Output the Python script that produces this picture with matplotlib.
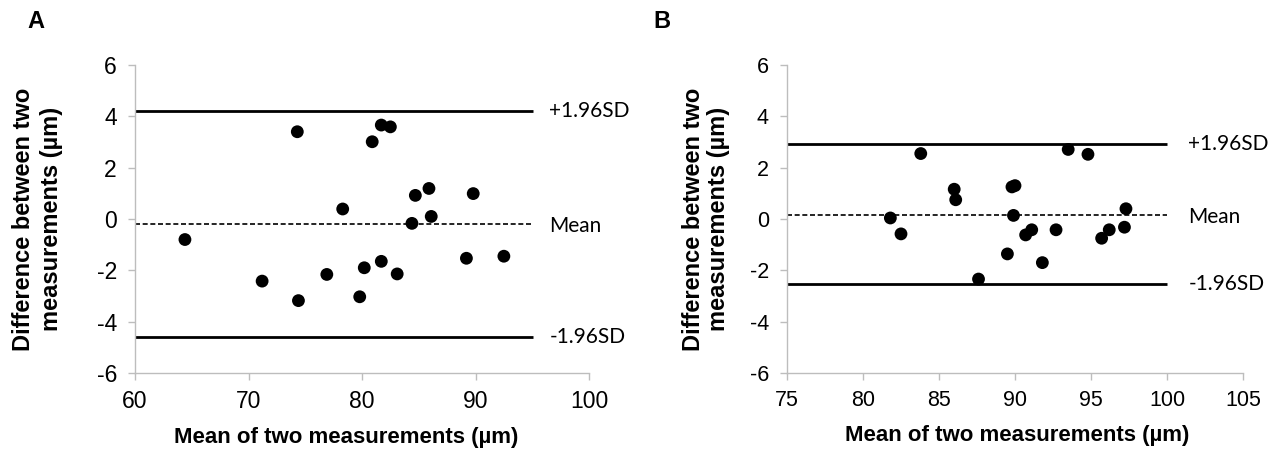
import matplotlib
matplotlib.use("Agg")
import matplotlib.pyplot as plt
import numpy as np

plt.rcParams['font.family'] = ['Liberation Sans', 'DejaVu Sans']
plt.rcParams['axes.unicode_minus'] = False

# panel A: Bland-Altman data
a_mean = [64.4, 71.2, 74.3, 74.4, 76.9, 78.3, 79.8, 80.2, 80.9, 81.7,
          82.5, 81.7, 83.1, 84.4, 84.7, 85.9, 86.1, 89.2, 89.8, 92.5]
a_diff = [-0.80, -2.42, 3.40, -3.18, -2.16, 0.39, -3.03, -1.90, 3.01, 3.66,
          3.59, -1.65, -2.14, -0.17, 0.92, 1.19, 0.10, -1.53, 0.99, -1.45]
a_upper, a_avg, a_lower = 4.22, -0.18, -4.58

# panel B
b_mean = [81.8, 82.5, 83.8, 86.0, 86.1, 87.6, 89.5, 89.8, 90.0, 89.9,
          90.7, 91.1, 91.8, 92.7, 93.5, 94.8, 95.7, 96.2, 97.2, 97.3]
b_diff = [0.04, -0.58, 2.55, 1.16, 0.75, -2.34, -1.36, 1.25, 1.30, 0.14,
          -0.62, -0.42, -1.70, -0.42, 2.71, 2.52, -0.75, -0.42, -0.32, 0.40]
b_upper, b_avg, b_lower = 2.91, 0.17, -2.55

W, H = 1271, 449
fig = plt.figure(figsize=(W / 100, H / 100), dpi=100)
axA = fig.add_axes([135 / W, 1 - 373 / H, 454 / W, 308 / H])
axB = fig.add_axes([787 / W, 1 - 373 / H, 456 / W, 308 / H])

# ax, x, y, limits, xlim, xticks, line end, text x, tick size, ylabel pad, line spacing, xlabel x
panels = [
    (axA, a_mean, a_diff, a_upper, a_avg, a_lower, (60, 100), [60, 70, 80, 90, 100], 95.1, 96.5, 16.5, 24, 1.28, 0.465),
    (axB, b_mean, b_diff, b_upper, b_avg, b_lower, (75, 105), [75, 80, 85, 90, 95, 100, 105], 100, 101.4, 15.5, 14, 1.1, 0.505),
]

ann_font = ['Lato', 'DejaVu Sans']
for ax, xs, ys, up, avg, lo, xlim, xt, xend, xtext, tsize, ypad, lsp, xlx in panels:
    ax.hlines([up, lo], xlim[0], xend, colors='black', linewidth=2)
    ax.hlines(avg, xlim[0], xend, colors='black', linewidth=1.2, linestyles=(0, (3, 1.6)))
    ax.scatter(xs, ys, s=85, color='black', zorder=3, edgecolors='none')
    ax.text(xtext, up, '+1.96SD', fontsize=15, va='center', ha='left', family=ann_font)
    ax.text(xtext, avg - 0.1, 'Mean', fontsize=15, va='center', ha='left', family=ann_font)
    ax.text(xtext, lo, '-1.96SD', fontsize=15, va='center', ha='left', family=ann_font)
    ax.set_xlim(xlim)
    ax.set_xticks(xt)
    ax.set_ylim(-6, 6)
    ax.set_yticks([-6, -4, -2, 0, 2, 4, 6])
    for s in ['top', 'right']:
        ax.spines[s].set_visible(False)
    for s in ['left', 'bottom']:
        ax.spines[s].set_color('#bdbdbd')
        ax.spines[s].set_linewidth(1)
    ax.tick_params(axis='both', colors='#bdbdbd', labelcolor='black', labelsize=tsize, length=5, width=1)
    ax.tick_params(axis='y', pad=8)
    ax.tick_params(axis='x', pad=7)
    ax.set_xlabel('Mean of two measurements (µm)', fontsize=16, fontweight='bold', labelpad=10)
    ax.xaxis.label.set_x(xlx)
    ax.set_ylabel('Difference between two\nmeasurements (µm)', fontsize=17, fontweight='bold',
                  labelpad=ypad, linespacing=lsp)
    ax.patch.set_alpha(0)

fig.text(27 / W, 1 - 22 / H, 'A', fontsize=17, fontweight='bold', va='center')
fig.text(653 / W, 1 - 22 / H, 'B', fontsize=17, fontweight='bold', va='center')

fig.savefig('out.png', dpi=100)
